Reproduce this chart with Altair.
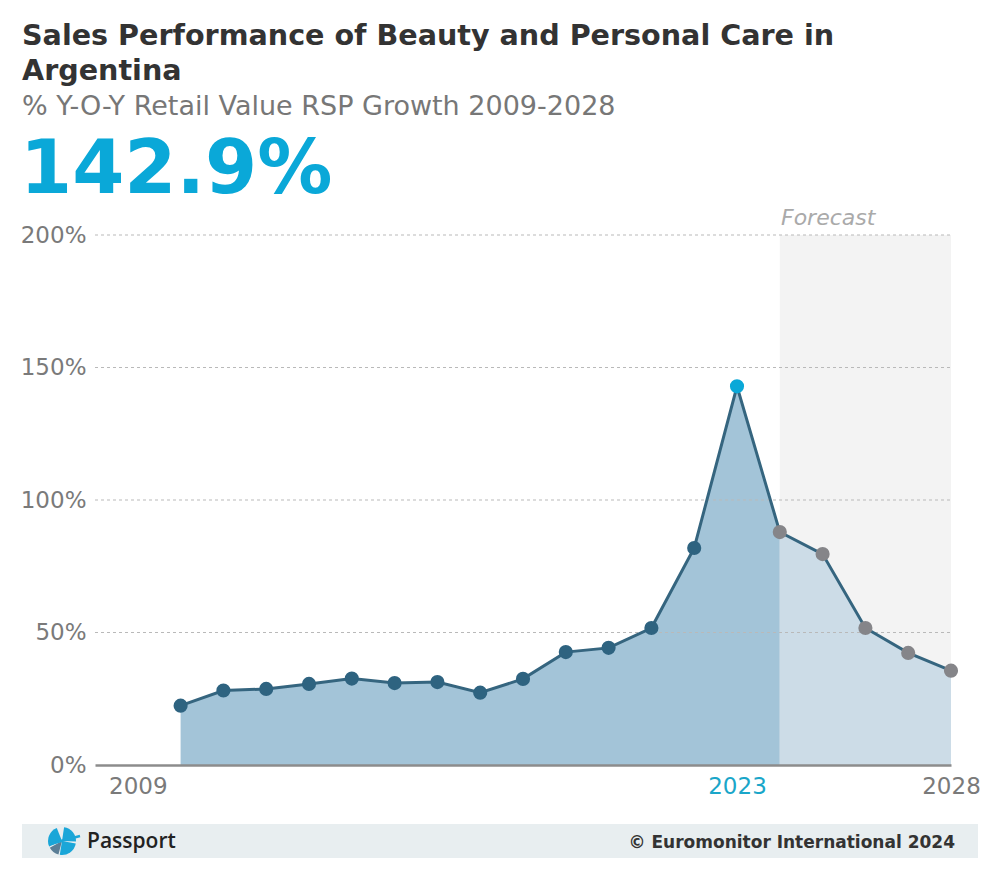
import altair as alt
import pandas as pd

# ---- data ----
years = list(range(2010, 2029))
growth = [22.4, 28.1, 28.7, 30.6, 32.6, 30.9, 31.3, 27.3, 32.5, 42.6, 44.2,
          51.7, 81.9, 142.9, 87.9, 79.6, 51.7, 42.3, 35.6]
phase = ["Historic"] * 13 + ["Highlight"] + ["Forecast"] * 5
forecast_start = 2024
forecast_end = 2028
tick_years = [2009, 2023, 2028]
y_ticks = [0, 50, 100, 150, 200]
grid_ticks = [50, 100, 150, 200]

df = pd.DataFrame({"year": years, "growth": growth, "phase": phase})

FONT = "DejaVu Sans"
W, H = 856, 530

xscale = alt.Scale(domain=[2008, 2028], nice=False, zero=False)
yscale = alt.Scale(domain=[0, 200], nice=False)

base = alt.Chart(df)

forecast_band = alt.Chart(pd.DataFrame({"a": [forecast_start], "b": [forecast_end]})).mark_rect(
    color="#f3f3f3"
).encode(
    x=alt.X("a:Q", scale=xscale, axis=None),
    x2="b:Q",
    y=alt.value(0),
    y2=alt.value(H),
)

area_hist = base.transform_filter(alt.datum.year <= forecast_start).mark_area(
    color="#a3c4d8", opacity=1
).encode(
    x=alt.X("year:Q", scale=xscale, axis=None),
    y=alt.Y("growth:Q", scale=yscale, axis=None),
)

area_fc = base.transform_filter(alt.datum.year >= forecast_start).mark_area(
    color="#ccdce7", opacity=1
).encode(
    x=alt.X("year:Q", scale=xscale, axis=None),
    y=alt.Y("growth:Q", scale=yscale, axis=None),
)

grid = alt.Chart(pd.DataFrame({"g": grid_ticks})).mark_rule(
    color="#b9b9b9", strokeDash=[3, 3], strokeWidth=1
).encode(
    y=alt.Y("g:Q", scale=yscale, axis=None),
    x=alt.value(0),
    x2=alt.value(W),
)

line = base.mark_line(color="#35657f", strokeWidth=3).encode(
    x=alt.X(
        "year:Q",
        scale=xscale,
        axis=alt.Axis(
            values=tick_years,
            format="d",
            title=None,
            ticks=False,
            grid=False,
            domain=True,
            domainColor="#8c8c8c",
            domainWidth=2.5,
            labelFont=FONT,
            labelFontSize=23,
            labelColor=alt.expr("datum.value == 2023 ? '#1aa6c9' : '#7a7a7a'"),
            labelPadding=10,
            labelFlush=False,
            labelOverlap=False,
            zindex=1,
        ),
    ),
    y=alt.Y(
        "growth:Q",
        scale=yscale,
        axis=alt.Axis(
            values=y_ticks,
            labelExpr="datum.value + '%'",
            title=None,
            ticks=False,
            domain=False,
            grid=False,
            labelFont=FONT,
            labelFontSize=23,
            labelColor="#7a7a7a",
            labelPadding=9,
        ),
    ),
)

points = base.mark_circle(size=200, opacity=1).encode(
    x=alt.X("year:Q", scale=xscale, axis=None),
    y=alt.Y("growth:Q", scale=yscale, axis=None),
    color=alt.Color(
        "phase:N",
        scale=alt.Scale(
            domain=["Historic", "Highlight", "Forecast"],
            range=["#2e6380", "#0aa8d8", "#858589"],
        ),
        legend=None,
    ),
)

def label(text, x, y, size, color, weight="normal", style="normal", align="left", font=FONT):
    return alt.Chart(pd.DataFrame({"t": [text]})).mark_text(
        font=font, fontSize=size, fontWeight=weight, fontStyle=style,
        color=color, align=align, baseline="alphabetic",
    ).encode(text="t:N", x=alt.value(x), y=alt.value(y))

OX, OY = 95, 235  # plot origin on page

title1 = label("Sales Performance of Beauty and Personal Care in", 22 - OX, 45 - OY, 28.6, "#333333", weight="bold")
title2 = label("Argentina", 22 - OX, 80 - OY, 28.6, "#333333", weight="bold")
subtitle = label("% Y-O-Y Retail Value RSP Growth 2009-2028", 22 - OX, 115 - OY, 27, "#777777")
big = label("142.9%", 20 - OX, 193 - OY, 75, "#0aa8d8", weight="bold")
forecast_txt = label("Forecast", 781 - OX, 225 - OY, 22, "#aaaaaa", style="italic")

footer_band = alt.Chart(pd.DataFrame({"t": [""]})).mark_rect(color="#e8eef0").encode(
    x=alt.value(22 - OX), x2=alt.value(978 - OX), y=alt.value(824 - OY), y2=alt.value(858 - OY)
)
footer_txt = label("© Euromonitor International 2024", 955 - OX, 848 - OY, 17, "#333333",
                   weight="bold", align="right")
passport_txt = label("Passport", 87 - OX, 848 - OY, 21, "#222222", weight=600, font="Open Sans")

# stylised logo: wedges of a small disc
logo_df = pd.DataFrame({
    "t0": [3.4, 4.3, 0.15, 1.75],
    "t1": [4.2, 5.9, 1.6, 3.3],
    "c": ["#5b7e96", "#1aa6d8", "#1aa6d8", "#1aa6d8"],
})
logo = alt.Chart(logo_df).mark_arc(radius=14, innerRadius=0, opacity=1).encode(
    theta=alt.Theta("t0:Q", scale=None),
    theta2="t1:Q",
    color=alt.Color("c:N", scale=None),
    x=alt.value(62 - OX),
    y=alt.value(841 - OY),
)
logo_bar = alt.Chart(pd.DataFrame({"t": [""]})).mark_rule(color="#1aa6d8", strokeWidth=2.5).encode(
    x=alt.value(50 - OX), x2=alt.value(80 - OX), y=alt.value(844 - OY), y2=alt.value(836 - OY)
)

chart = alt.layer(
    forecast_band, area_hist, area_fc, grid, line, points,
    title1, title2, subtitle, big, forecast_txt,
    footer_band, footer_txt, passport_txt, logo, logo_bar,
).resolve_scale(x="independent", y="independent").properties(
    width=W,
    height=H,
    autosize=alt.AutoSizeParams(type="none"),
    padding={"left": 87, "top": 227, "right": 41, "bottom": 111},
).configure_view(stroke=None).configure_axis(labelFont=FONT)

chart.save("out.html", embed_options={"renderer": "svg", "actions": False})
